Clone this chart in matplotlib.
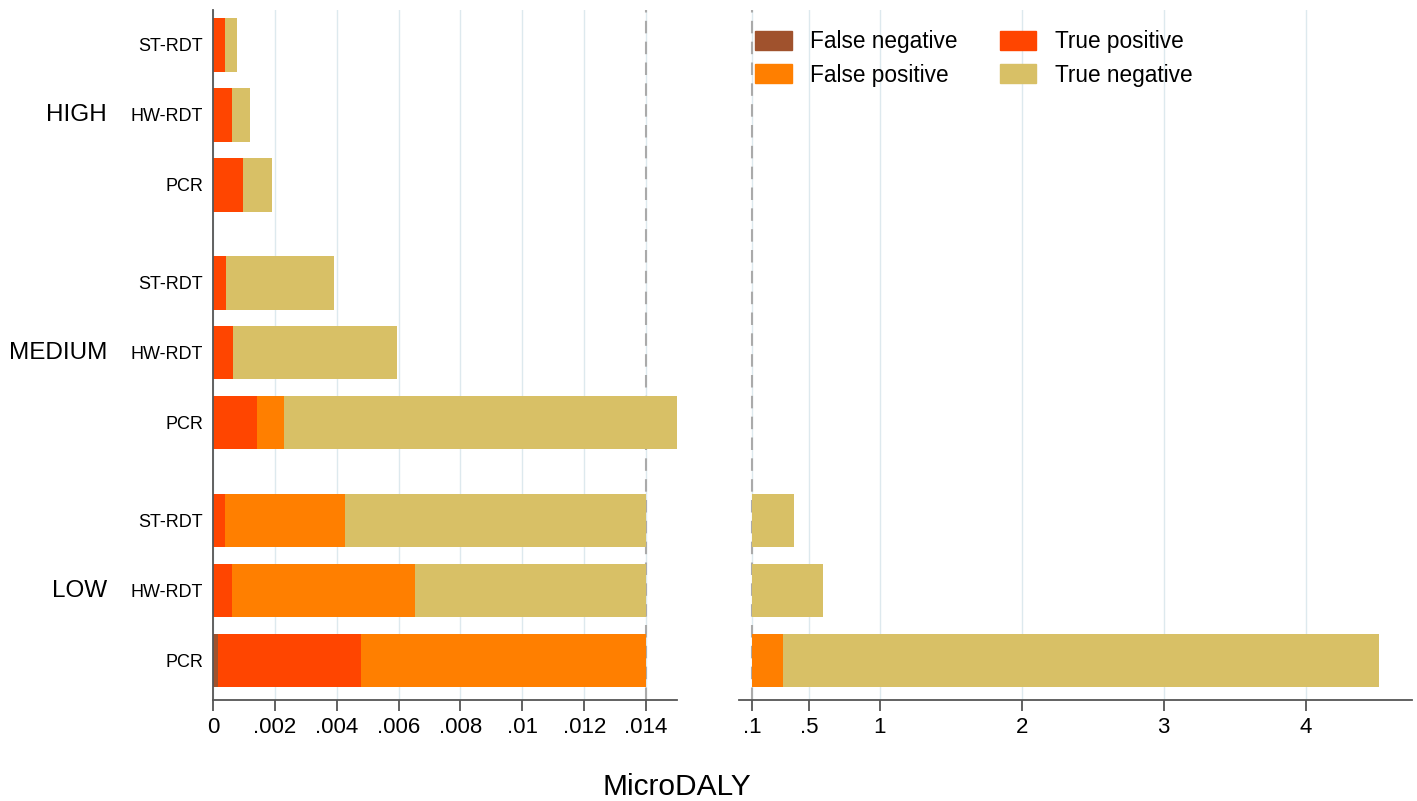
import matplotlib.pyplot as plt
import numpy as np

plt.rcParams['font.family'] = ['Liberation Sans', 'DejaVu Sans']

# MicroDALY per outcome, stacked in order FN, TP, FP, TN
tests = ['PCR', 'HW-RDT', 'ST-RDT']
levels = ['LOW', 'MEDIUM', 'HIGH']
outcomes = ['False negative', 'True positive', 'False positive', 'True negative']
colors = ['#a0522d', '#ff4500', '#ff7f00', '#d8c066']

# rows: LOW (PCR, HW, ST), MEDIUM (...), HIGH (...)
false_neg = [0.00015, 0.0, 0.0, 0.0, 0.0, 0.0, 0.0, 0.0, 0.0]
true_pos = [0.00465, 0.00061, 0.00039, 0.00142, 0.00065, 0.00042, 0.00097, 0.00061, 0.00039]
false_pos = [0.3132, 0.00592, 0.00388, 0.00088, 0.0, 0.0, 0.0, 0.0, 0.0]
true_neg = [4.20, 0.59347, 0.39173, 0.0129, 0.0053, 0.00349, 0.00093, 0.00059, 0.00039]

left_ticks = [0, .002, .004, .006, .008, .01, .012, .014]
left_labels = ['0', '.002', '.004', '.006', '.008', '.01', '.012', '.014']
right_ticks = [.1, .5, 1, 2, 3, 4]
right_labels = ['.1', '.5', '1', '2', '3', '4']
brk_lo, brk_hi = 0.014, 0.1

# y positions: three tests per level, extra gap between levels
ypos = []
for g in range(3):
    for t in range(3):
        ypos.append(g * 3.4 + t)
ypos = np.array(ypos)

segs = np.array([false_neg, true_pos, false_pos, true_neg])
cum = np.cumsum(segs, axis=0)
starts = cum - segs
totals = cum[-1]

W, H = 1417, 801
fig = plt.figure(figsize=(W / 100, H / 100), dpi=100)
ax1 = fig.add_axes([213 / W, 101 / H, (677 - 213) / W, 690 / H])
ax2 = fig.add_axes([739 / W, 101 / H, (1412 - 739) / W, 690 / H])

bh = 0.76
for k in range(4):
    for i in range(9):
        s, e = starts[k, i], cum[k, i]
        if e <= s:
            continue
        broken = totals[i] > brk_hi
        # left panel
        le = min(e, brk_lo) if broken else e
        if s < le:
            ax1.barh(ypos[i], le - s, left=s, height=bh, color=colors[k], linewidth=0)
        # right panel
        if broken and e > brk_hi:
            rs = max(s, brk_hi)
            ax2.barh(ypos[i], e - rs, left=rs, height=bh, color=colors[k], linewidth=0)

grid_c = '#dde9ee'
for ax in (ax1, ax2):
    ax.set_ylim(-0.56, 9.3)
    ax.grid(axis='x', color=grid_c, linewidth=1)
    ax.set_axisbelow(True)
    ax.spines['top'].set_visible(False)
    ax.spines['right'].set_visible(False)
    ax.spines['bottom'].set_color('#555555')
    ax.spines['bottom'].set_linewidth(1.3)
    ax.tick_params(axis='x', length=8, width=1.3, color='#555555', labelsize=16, pad=4)

ax1.set_xlim(0, 0.015)
ax1.set_xticks(left_ticks)
ax1.set_xticklabels(left_labels)
ax1.axvline(brk_lo, color='#aaaaaa', linestyle=(0, (6, 4)), linewidth=1.5, zorder=0.8)
ax1.spines['left'].set_color('#555555')
ax1.spines['left'].set_linewidth(1.3)
ax1.set_yticks(ypos)
ax1.set_yticklabels(tests * 3, fontsize=13)
ax1.tick_params(axis='y', length=0, pad=7)

ax2.set_xlim(0.008, 4.75)
ax2.set_xticks(right_ticks)
ax2.set_xticklabels(right_labels)
ax2.axvline(brk_hi, color='#aaaaaa', linestyle=(0, (6, 4)), linewidth=1.5, zorder=0.8)
ax2.spines['left'].set_visible(False)
ax2.set_yticks([])

# level labels
for g, name in enumerate(levels):
    fig.text(107 / W, ax1.transData.transform((0, ypos[g * 3 + 1]))[1] / H, name,
             ha='right', va='center', fontsize=17.5)

handles = [plt.Rectangle((0, 0), 1, 1, color=c) for c in colors]
order = [0, 2, 1, 3]
fig.legend([handles[i] for i in order], [outcomes[i] for i in order],
           loc='upper left', bbox_to_anchor=(735 / W, 1 - 10 / H), ncol=2,
           frameon=False, fontsize=16.3, handlelength=1.6, handleheight=0.9,
           columnspacing=1.9, handletextpad=0.8, labelspacing=0.45)

fig.text(677 / W, 1 - 787 / H, 'MicroDALY', ha='center', va='center', fontsize=21.5)

fig.savefig('out.png', dpi=100)
